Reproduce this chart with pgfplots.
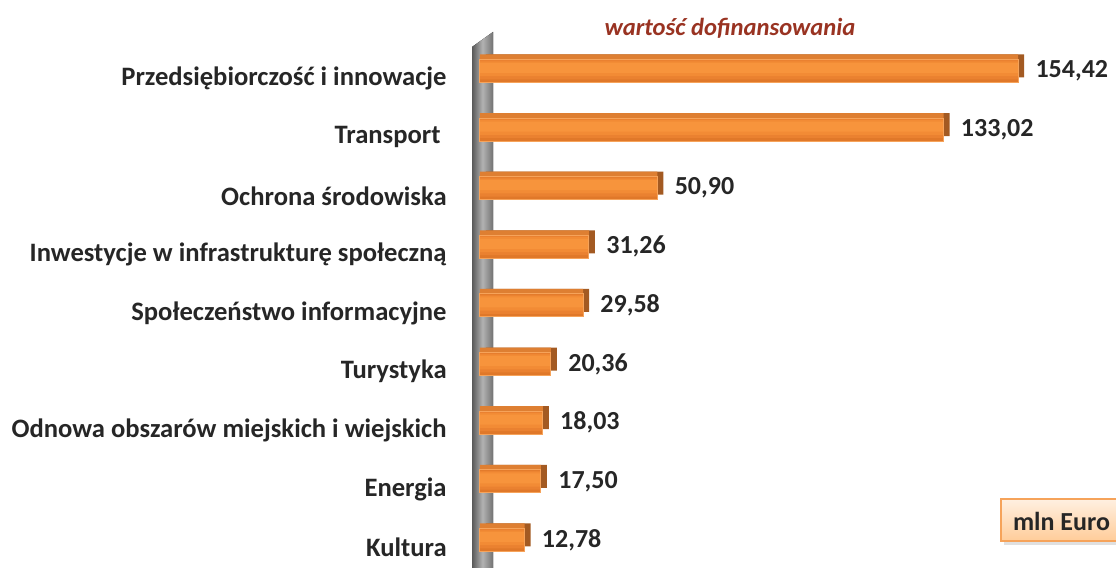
\documentclass[border=0pt]{standalone}
\usepackage{pgfplots}
\pgfplotsset{compat=1.18}
\usepackage{fontspec}
\setmainfont{Carlito}
\definecolor{barA}{HTML}{E07829}
\definecolor{barB}{HTML}{EA8130}
\definecolor{barC}{HTML}{F28B35}
\definecolor{barD}{HTML}{F7943C}
\definecolor{barEdge}{HTML}{F6A35A}
\definecolor{topFace}{HTML}{DE7F32}
\definecolor{sideFace}{HTML}{A35A22}
\definecolor{titleRed}{HTML}{993322}
\definecolor{txt}{HTML}{262626}
\begin{document}
\begin{tikzpicture}[x=1pt,y=1pt]
\useasboundingbox (0,0) rectangle (558,284);
% axis wall
\fill[left color=black!65, right color=black!55, middle color=black!30]
  (236,0) -- (236,260.5) -- (246.5,268) -- (246.5,0) -- cycle;
\begin{axis}[
  at={(240pt,0pt)}, anchor=south west,
  scale only axis, width=318pt, height=284pt,
  xmin=0, xmax=182.5, ymin=-0.478, ymax=9.21,
  axis line style={draw=none}, tick style={draw=none},
  xtick=\empty,
  ytick={0,1,2,3,4,5,6,7,8},
  yticklabels={Kultura, Energia, Odnowa obszarów miejskich i wiejskich, Turystyka,
    Społeczeństwo informacyjne, Inwestycje w infrastrukturę społeczną,
    Ochrona środowiska, Transport\ \ , Przedsiębiorczość i innowacje},
  yticklabel style={font=\bfseries\fontsize{13.3}{15}\selectfont, text=txt, inner sep=0pt, xshift=-16.5pt, yshift=-3.8pt, anchor=east},
  bar width=11.5pt,
  clip=false,
]
\addplot[xbar, bar shift=2.5pt, xshift=3pt, fill=sideFace, draw=none] coordinates {
 (12.78,0) (17.50,1) (18.03,2) (20.36,3) (29.58,4) (31.26,5) (50.90,6) (133.02,7) (154.42,8)};
\addplot[xbar, bar shift=2.5pt, fill=topFace, draw=none] coordinates {
 (12.78,0) (17.50,1) (18.03,2) (20.36,3) (29.58,4) (31.26,5) (50.90,6) (133.02,7) (154.42,8)};
\addplot[xbar, bar shift=0pt, fill=barA, draw=none,
  nodes near coords={\pgfmathprintnumber[fixed, fixed zerofill, precision=2, use comma, assume math mode=true]{\pgfplotspointmeta}},
  point meta=x,
  every node near coord/.append style={anchor=west, inner sep=0pt, xshift=8.5pt, text=txt, font=\bfseries\fontsize{13}{15}\selectfont}]
 coordinates {
 (12.78,0) (17.50,1) (18.03,2) (20.36,3) (29.58,4) (31.26,5) (50.90,6) (133.02,7) (154.42,8)};
\addplot[xbar, bar shift=0.6pt, bar width=9.6pt, fill=barB, draw=none] coordinates {
 (12.78,0) (17.50,1) (18.03,2) (20.36,3) (29.58,4) (31.26,5) (50.90,6) (133.02,7) (154.42,8)};
\addplot[xbar, bar shift=1.1pt, bar width=7.4pt, fill=barC, draw=none] coordinates {
 (12.78,0) (17.50,1) (18.03,2) (20.36,3) (29.58,4) (31.26,5) (50.90,6) (133.02,7) (154.42,8)};
\addplot[xbar, bar shift=1.5pt, bar width=5pt, fill=barD, draw=none] coordinates {
 (12.78,0) (17.50,1) (18.03,2) (20.36,3) (29.58,4) (31.26,5) (50.90,6) (133.02,7) (154.42,8)};
\addplot[xbar, bar shift=0pt, fill=none, draw=barEdge, line width=0.5pt] coordinates {
 (12.78,0) (17.50,1) (18.03,2) (20.36,3) (29.58,4) (31.26,5) (50.90,6) (133.02,7) (154.42,8)};
\end{axis}
\node[font=\bfseries\itshape\fontsize{12.3}{14}\selectfont, text=titleRed] at (365,270) {wartość dofinansowania};
\fill[black!20, opacity=0.6] (502,11.5) rectangle (562,32.5);
\node[draw=barEdge, line width=0.8pt, top color=orange!12, bottom color=orange!40, minimum width=62pt, minimum height=21pt, anchor=south west, inner sep=0pt] at (500,13) {};
\node[font=\bfseries\fontsize{13}{15}\selectfont, text=txt, anchor=west] at (503,23.5) {mln Euro};
\end{tikzpicture}
\end{document}
